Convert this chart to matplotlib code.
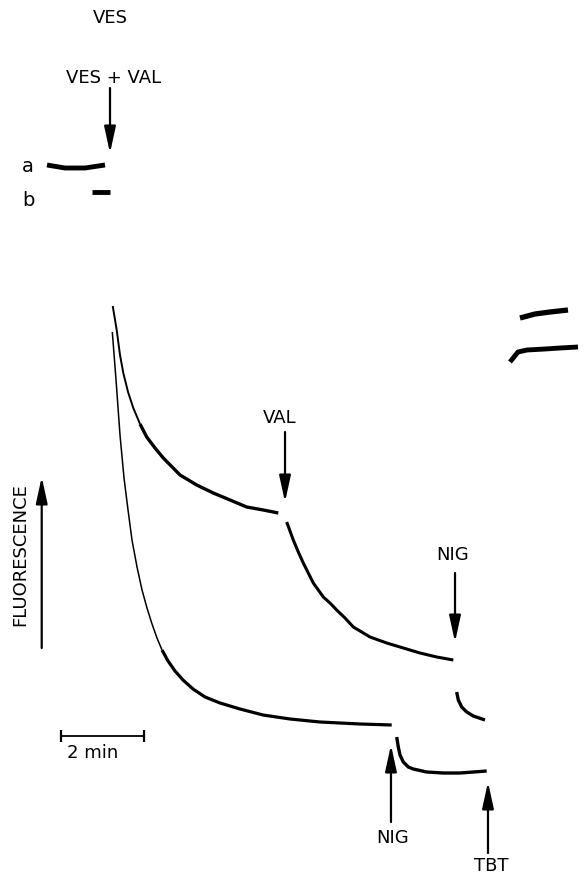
import numpy as np
import matplotlib.pyplot as plt

# time in min (0 = addition of vesicles), fluorescence in arbitrary units
# trace a (upper), before VAL
a1_t = [0.065, 0.160, 0.239, 0.318, 0.431, 0.557, 0.718, 0.878, 1.077, 1.275, 1.675,
        2.074, 2.471, 2.871, 3.270, 3.667, 4.026]
a1_f = [57.1, 54.7, 52.2, 50.4, 48.5, 46.9, 45.3, 44.0, 42.9, 41.9, 40.2,
        39.2, 38.4, 37.7, 37.0, 36.7, 36.4]
# trace a after VAL
a2_t = [4.227, 4.385, 4.505, 4.624, 4.744, 4.864, 5.103, 5.263, 5.423, 5.622, 5.821,
        6.022, 6.220, 6.620, 7.017, 7.416, 7.816, 8.213]
a2_f = [35.5, 33.7, 32.5, 31.4, 30.4, 29.4, 28.0, 27.4, 26.7, 25.9, 25.0,
        24.5, 24.0, 23.4, 22.9, 22.4, 22.0, 21.7]
# trace a after NIG
a3_t = [8.294, 8.333, 8.414, 8.534, 8.691, 8.971]
a3_f = [18.5, 17.7, 17.0, 16.5, 16.1, 15.7]

# trace b (lower), before NIG
b1_t = [0.055, 0.144, 0.239, 0.335, 0.431, 0.526, 0.646, 0.766, 0.885, 1.005, 1.124,
        1.244, 1.388, 1.555, 1.746, 1.986, 2.273, 2.632, 3.110, 3.660, 4.306, 5.024,
        5.981, 6.739]
b1_f = [54.5, 49.7, 44.2, 39.9, 36.7, 33.7, 31.0, 28.7, 26.9, 25.3, 23.9,
        22.7, 21.6, 20.6, 19.7, 18.8, 18.0, 17.4, 16.8, 16.2, 15.8, 15.5,
        15.3, 15.2]
# trace b after NIG
b2_t = [6.859, 6.897, 6.938, 7.017, 7.136, 7.256, 7.576, 7.974, 8.373, 9.012]
b2_f = [14.0, 13.0, 12.2, 11.5, 11.0, 10.8, 10.5, 10.4, 10.4, 10.6]

# baselines before addition (VES alone)
base_a_t = [-1.507, -1.077, -0.598, -0.120]
base_a_f = [71.2, 70.9, 70.9, 71.2]
base_b_t = [-0.431, 0.0]
base_b_f = [68.5, 68.5]

# traces after TBT (right)
tbt_a_t = [9.809, 10.167, 10.526, 10.957]
tbt_a_f = [55.9, 56.3, 56.5, 56.7]
tbt_b_t = [9.569, 9.761, 9.976, 10.407, 10.766, 11.196]
tbt_b_f = [51.5, 52.5, 52.7, 52.8, 52.9, 53.0]

# additions: label, time, arrow tail F, arrow head F, label t, label F
events = [
    ("VES + VAL", 0.0, 78.9, 72.4, 0.096, 79.9),
    ("VAL", 4.187, 44.5, 37.5, 4.067, 45.9),
    ("NIG", 8.254, 30.4, 23.5, 8.206, 32.2),
    ("NIG", 6.722, 5.5, 13.2, 6.770, 3.9),
    ("TBT", 9.043, 2.4, 9.5, 9.132, 1.1),
]

fig = plt.figure(figsize=(5.85, 8.77), dpi=100)
ax = fig.add_axes([0, 0, 1, 1])
ax.set_xlim(-2.632, 11.364)
ax.set_ylim(0, 87.7)
ax.axis('off')

fs = 13
font = 'DejaVu Sans'
style = dict(color='black', solid_joinstyle='round', solid_capstyle='butt')

# fast parts thin, noisy slow parts thicker
ax.plot(a1_t[:7], a1_f[:7], lw=1.4, **style)
ax.plot(a1_t[6:], a1_f[6:], lw=2.4, **style)
ax.plot(a2_t, a2_f, lw=2.2, **style)
ax.plot(a3_t, a3_f, lw=2.4, **style)
ax.plot(b1_t[:12], b1_f[:12], lw=1.1, **style)
ax.plot(b1_t[11:], b1_f[11:], lw=2.3, **style)
ax.plot(b2_t, b2_f, lw=2.4, **style)
ax.plot(base_a_t, base_a_f, lw=3.5, **style)
ax.plot(base_b_t, base_b_f, lw=3.5, **style)
ax.plot(tbt_a_t, tbt_a_f, lw=3.8, **style)
ax.plot(tbt_b_t, tbt_b_f, lw=3.5, **style)

arrow = dict(arrowstyle='-|>,head_length=1.6,head_width=0.35',
             mutation_scale=10, color='black', lw=1.6, shrinkA=0, shrinkB=0)

for label, t, f_tail, f_head, lt, lf in events:
    ax.annotate("", xy=(t, f_head), xytext=(t, f_tail), arrowprops=arrow)
    ax.text(lt, lf, label, fontsize=fs, family=font, ha='center', va='center')

ax.text(0.0, 85.9, "VES", fontsize=fs, family=font, ha='center', va='center')
ax.text(-1.962, 71.0, "a", fontsize=fs + 1, family=font, ha='center', va='center')
ax.text(-1.962, 67.7, "b", fontsize=fs + 1, family=font, ha='center', va='center')

# fluorescence axis arrow
ax.annotate("", xy=(-1.634, 40.0), xytext=(-1.634, 22.9), arrowprops=arrow)
ax.text(-2.153, 32.2, "FLUORESCENCE", fontsize=fs, family=font, rotation=90,
        ha='center', va='center')

# 2 min scale bar
ax.plot([-1.18, 0.82], [14.1, 14.1], color='black', lw=1.3, marker='|', ms=9, mew=1.6)
ax.text(-0.407, 12.4, "2 min", fontsize=fs, family=font, ha='center', va='center')

fig.savefig('out.png', dpi=100)
